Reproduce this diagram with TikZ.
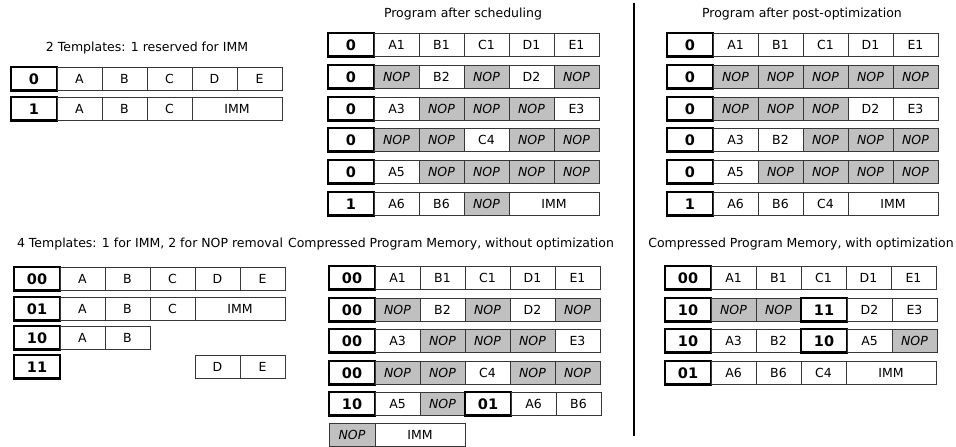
\documentclass[tikz,border=0pt]{standalone}
\usepackage{fontspec}
\setmainfont{DejaVu Sans}
\usepackage{xcolor}
\usepackage{tikz}
\usetikzlibrary{positioning}
\definecolor{nopgray}{RGB}{192,192,192}
\definecolor{celledge}{RGB}{55,55,55}
\newcommand{\memfont}{\fontsize{12.5}{15}\selectfont}
\newcommand{\bitfont}{\fontsize{14.5}{17}\selectfont\bfseries}
\tikzset{
  cell/.style={draw=celledge, line width=1pt, minimum width=45, minimum height=23.5,
               inner sep=0pt, outer sep=0pt, font=\memfont},
  tmpl/.style={cell, draw=black, line width=2.4pt, minimum width=46, font=\bitfont},
  nop/.style={cell, fill=nopgray, font=\memfont\itshape},
  wide/.style={cell, minimum width=90},
  gap/.style={cell, draw=none},
  title/.style={inner sep=0pt, font=\memfont},
}
% one memory row: name, top-left corner, template bits, list of style/text
\newcommand{\memrow}[4]{%
  \node[tmpl, anchor=north west] (#1c0) at (#2) {#3};
  \foreach \st/\tx [count=\i, remember=\i as \lasti (initially 0)] in {#4}
    \node[\st, right=0pt of #1c\lasti] (#1c\i) {\tx};
}

\begin{document}
\begin{tikzpicture}[x=1pt, y=-1pt]
  \useasboundingbox (0,0) rectangle (956,447);

  % templates, top left
  \node[title] (ttltwo) at (147,48) {2 Templates: 1 reserved for IMM};
  \memrow{two1}{11,67}{0}{cell/A, cell/B, cell/C, cell/D, cell/E}
  \memrow{two2}{11,97}{1}{cell/A, cell/B, cell/C, wide/IMM}

  % templates, bottom left
  \node[title] (ttlfour) at (150,244) {4 Templates: 1 for IMM, 2 for NOP removal};
  \memrow{four1}{14,267}{00}{cell/A, cell/B, cell/C, cell/D, cell/E}
  \memrow{four2}{14,297}{01}{cell/A, cell/B, cell/C, wide/IMM}
  \memrow{four3}{14,326}{10}{cell/A, cell/B}
  \memrow{four4}{14,355}{11}{gap/{}, gap/{}, gap/{}, cell/D, cell/E}

  % program after scheduling
  \node[title] (ttlsched) at (463,14) {Program after scheduling};
  \memrow{sch1}{328,33}{0}{cell/A1, cell/B1, cell/C1, cell/D1, cell/E1}
  \memrow{sch2}{328,65}{0}{nop/NOP, cell/B2, nop/NOP, cell/D2, nop/NOP}
  \memrow{sch3}{328,97}{0}{cell/A3, nop/NOP, nop/NOP, nop/NOP, cell/E3}
  \memrow{sch4}{328,128}{0}{nop/NOP, nop/NOP, cell/C4, nop/NOP, nop/NOP}
  \memrow{sch5}{328,160}{0}{cell/A5, nop/NOP, nop/NOP, nop/NOP, nop/NOP}
  \memrow{sch6}{328,192}{1}{cell/A6, cell/B6, nop/NOP, wide/IMM}

  % compressed, without optimization
  \node[title] (ttlcmp) at (451,244) {Compressed Program Memory, without optimization};
  \memrow{cmp1}{329,266}{00}{cell/A1, cell/B1, cell/C1, cell/D1, cell/E1}
  \memrow{cmp2}{329,298}{00}{nop/NOP, cell/B2, nop/NOP, cell/D2, nop/NOP}
  \memrow{cmp3}{329,329}{00}{cell/A3, nop/NOP, nop/NOP, nop/NOP, cell/E3}
  \memrow{cmp4}{329,361}{00}{nop/NOP, nop/NOP, cell/C4, nop/NOP, nop/NOP}
  \memrow{cmp5}{329,392}{10}{cell/A5, nop/NOP, tmpl/01, cell/A6, cell/B6}
  \node[nop, minimum width=46, anchor=north west] (cmp6c0) at (329,423) {NOP};
  \node[wide, right=0pt of cmp6c0] (cmp6c1) {IMM};

  % program after post-optimization
  \node[title] (ttlpost) at (802,14) {Program after post-optimization};
  \memrow{post1}{667,33}{0}{cell/A1, cell/B1, cell/C1, cell/D1, cell/E1}
  \memrow{post2}{667,65}{0}{nop/NOP, nop/NOP, nop/NOP, nop/NOP, nop/NOP}
  \memrow{post3}{667,97}{0}{nop/NOP, nop/NOP, nop/NOP, cell/D2, cell/E3}
  \memrow{post4}{667,128}{0}{cell/A3, cell/B2, nop/NOP, nop/NOP, nop/NOP}
  \memrow{post5}{667,160}{0}{cell/A5, nop/NOP, nop/NOP, nop/NOP, nop/NOP}
  \memrow{post6}{667,192}{1}{cell/A6, cell/B6, cell/C4, wide/IMM}

  % compressed, with optimization
  \node[title] (ttlopt) at (801,244) {Compressed Program Memory, with optimization};
  \memrow{opt1}{665,266}{00}{cell/A1, cell/B1, cell/C1, cell/D1, cell/E1}
  \memrow{opt2}{665,298}{10}{nop/NOP, nop/NOP, tmpl/11, cell/D2, cell/E3}
  \memrow{opt3}{665,329}{10}{cell/A3, cell/B2, tmpl/10, cell/A5, nop/NOP}
  \memrow{opt4}{665,361}{01}{cell/A6, cell/B6, cell/C4, wide/IMM}

  % divider
  \coordinate (divtop) at (634,3);
  \coordinate (divbot) at (634,436);
  \draw[line width=2.2pt] (divtop) -- (divbot);
\end{tikzpicture}
\end{document}
